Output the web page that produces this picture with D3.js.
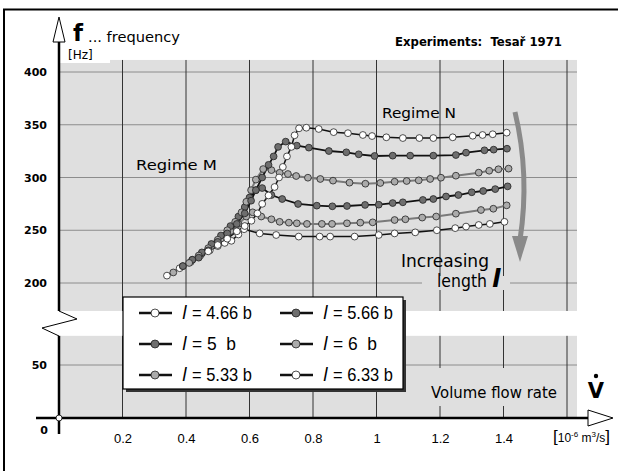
<!DOCTYPE html>
<html>
<head>
<meta charset="utf-8">
<script src="https://cdn.jsdelivr.net/npm/d3@7"></script>
<style>
body { margin: 0; background: #fff; }
text { font-family: "DejaVu Sans", sans-serif; }
.narrow { font-family: "Liberation Sans Narrow", "Arial Narrow", "Liberation Sans", sans-serif; }
</style>
</head>
<body>
<svg id="chart"></svg>
<script>
// values: [flow rate 10^-6 m3/s, frequency Hz]
const s466 = [[0.47,230],[0.50,236],[0.53,242],[0.56,249],[0.585,254],[0.606,259],[0.625,266],[0.64,275],[0.66,283],[0.679,291],[0.693,300],[0.705,310],[0.718,320],[0.732,329],[0.742,340],[0.756,346.6],[0.779,347.2],[0.818,346],[0.865,343],[0.91,342],[0.957,340.3],[0.986,339.3],[1.031,338.1],[1.083,337.4],[1.135,337.4],[1.179,337.4],[1.24,338.1],[1.303,339.6],[1.334,340.3],[1.366,341],[1.41,342.5]];
const s500 = [[0.44,224],[0.47,231],[0.50,239],[0.53,247],[0.56,256],[0.585,266],[0.605,278],[0.62,288],[0.64,300],[0.66,312],[0.676,320],[0.69,329],[0.714,334],[0.749,330.2],[0.787,328.3],[0.85,325.1],[0.905,323.9],[0.944,322],[0.994,320.4],[1.051,320.7],[1.106,320.7],[1.179,320.7],[1.25,321.3],[1.282,323.5],[1.34,325.8],[1.369,326.4],[1.411,327.3]];
const s533 = [[0.41,219],[0.44,226],[0.47,233],[0.50,241],[0.53,250],[0.555,258],[0.575,267],[0.59,277],[0.605,288],[0.62,298],[0.643,308],[0.669,307],[0.695,304.5],[0.721,303.3],[0.747,301.4],[0.784,299.8],[0.823,298.6],[0.863,297],[0.915,295.1],[0.965,294.1],[1.012,294.8],[1.057,296],[1.095,296.7],[1.133,297.3],[1.169,298.6],[1.203,299.8],[1.25,301.7],[1.322,304.6],[1.355,306.4],[1.384,307.8],[1.416,308.4]];
const s566 = [[0.39,216],[0.42,222],[0.45,229],[0.48,237],[0.51,245],[0.54,254],[0.565,263],[0.585,272],[0.60,281],[0.62,288],[0.64,290],[0.669,283.4],[0.703,279.6],[0.753,274.9],[0.812,273.3],[0.861,272.7],[0.907,273],[0.964,274],[1.007,274.2],[1.051,275.8],[1.083,276.5],[1.146,278.7],[1.179,279.6],[1.219,282],[1.258,283.4],[1.30,286],[1.336,287.2],[1.374,289],[1.413,291.6]];
const s600 = [[0.36,210],[0.39,216],[0.42,222],[0.45,228],[0.48,235],[0.51,242],[0.54,249],[0.565,256],[0.59,263],[0.61,267],[0.637,263],[0.669,260.4],[0.695,258],[0.724,257.2],[0.749,256.6],[0.781,256],[0.828,256],[0.86,256],[0.907,256.6],[0.949,257.2],[0.988,257.5],[1.057,259.7],[1.091,260.4],[1.144,262],[1.188,263],[1.25,265.7],[1.329,269.2],[1.368,270.4],[1.41,273.6]];
const s633 = [[0.34,207],[0.38,214],[0.415,220],[0.445,226],[0.475,231],[0.50,235],[0.522,238],[0.543,240],[0.565,246],[0.583,251],[0.632,247],[0.684,245.5],[0.755,244],[0.821,244],[0.854,244],[0.931,244],[1.007,245.5],[1.057,247],[1.122,248],[1.19,250],[1.248,252],[1.282,253.5],[1.322,255],[1.357,256],[1.403,258]];

const legendLabels = ["4.66 b", "5  b", "5.33 b", "5.66 b", "6  b", "6.33 b"];
const xTicks = [0.2, 0.4, 0.6, 0.8, 1, 1.2, 1.4];
const xGrid = [0.2, 0.4, 0.6, 0.8, 1, 1.2, 1.4, 1.6];
const yTicksUpper = [200, 250, 300, 350, 400];
const yTicksLower = [50];

let svg = d3.select("#chart").attr("width", 618).attr("height", 471);

let x = d3.scaleLinear().domain([0, 1.6]).range([59, 567]);
let yUp = d3.scaleLinear().domain([200, 400]).range([283, 72]);
let yLow = d3.scaleLinear().domain([0, 50]).range([418, 365]);

// frame
svg.append('rect').attr('x', 4).attr('y', 9.5).attr('width', 700).attr('height', 600)
    .attr('fill', 'none').attr('stroke', '#000').attr('stroke-width', 2);

// gray plot areas (upper and lower part of the broken axis)
svg.append('rect').attr('x', 59).attr('y', yUp(411.4)).attr('width', 518).attr('height', yUp(173.5) - yUp(411.4))
    .attr('fill', '#dfdfdf');
svg.append('rect').attr('x', 59).attr('y', yLow(77.5)).attr('width', 518).attr('height', yLow(0) - yLow(77.5))
    .attr('fill', '#dfdfdf');

// grid
let grid = svg.append('g');
grid.selectAll('line.hu').data(yTicksUpper).enter().append('line')
    .attr('x1', 59).attr('x2', 577).attr('y1', d => yUp(d)).attr('y2', d => yUp(d))
    .attr('stroke', '#8c8c8c').attr('stroke-width', 1);
grid.selectAll('line.hl').data(yTicksLower).enter().append('line')
    .attr('x1', 59).attr('x2', 577).attr('y1', d => yLow(d)).attr('y2', d => yLow(d))
    .attr('stroke', '#8c8c8c').attr('stroke-width', 1);
grid.selectAll('line.vu').data(xGrid).enter().append('line')
    .attr('x1', d => x(d)).attr('x2', d => x(d)).attr('y1', yUp(411.4)).attr('y2', yUp(173.5))
    .attr('stroke', '#333').attr('stroke-width', 1);
grid.selectAll('line.vl').data(xGrid).enter().append('line')
    .attr('x1', d => x(d)).attr('x2', d => x(d)).attr('y1', yLow(77.5)).attr('y2', yLow(0))
    .attr('stroke', '#333').attr('stroke-width', 1);

// [Hz] sits in a white notch
svg.append('rect').attr('x', 60).attr('y', 58).attr('width', 50).attr('height', 5).attr('fill', '#fff');
svg.append('text').attr('x', 68).attr('y', 58.5).attr('font-size', 12).text('[Hz]');

// texts on gray background
function label(sx, sy, sText, iSize, iLen){
    return svg.append('text').attr('x', sx).attr('y', sy).attr('font-size', iSize)
        .attr('textLength', iLen).attr('lengthAdjust', 'spacingAndGlyphs').text(sText);
}
svg.append('rect').attr('x', 422).attr('y', 276).attr('width', 88).attr('height', 14).attr('fill', '#dfdfdf');
label(136, 170, 'Regime M', 14, 81);
label(382, 118, 'Regime N', 14, 74);
label(401, 267, 'Increasing', 17, 88);
label(437, 287, 'length', 17, 50);
svg.append('text').attr('x', 492).attr('y', 287).attr('font-size', 25)
    .attr('font-family', 'Liberation Serif').attr('font-style', 'italic').attr('font-weight', 'bold').text('l');
svg.append('rect').attr('x', 426).attr('y', 368).attr('width', 140).attr('height', 38).attr('fill', '#dfdfdf');
label(431, 398, 'Volume flow rate', 15, 126);

// gray arrow "increasing length"
svg.append('path').attr('d', 'M515,112 Q530,175 520,240')
    .attr('fill', 'none').attr('stroke', '#8a8a8a').attr('stroke-width', 5);
svg.append('path').attr('d', 'M512,236 L528,236 L520,262 Z').attr('fill', '#8a8a8a');

// series
let line = d3.line().x(d => x(d[0])).y(d => yUp(d[1]));
let series = [
    {data: s633, fill: '#fff', line: '#111', w: 1.5},
    {data: s600, fill: '#ababab', line: '#7a7a7a', w: 2},
    {data: s566, fill: '#6e6e6e', line: '#111', w: 1.8},
    {data: s533, fill: '#ababab', line: '#7a7a7a', w: 2},
    {data: s500, fill: '#6e6e6e', line: '#111', w: 1.8},
    {data: s466, fill: '#fff', line: '#111', w: 1.5}
];
series.forEach(function(s){
    svg.append('path').attr('d', line(s.data)).attr('fill', 'none')
        .attr('stroke', s.line).attr('stroke-width', s.w);
});
series.forEach(function(s){
    svg.append('g').selectAll('circle').data(s.data).enter().append('circle')
        .attr('cx', d => x(d[0])).attr('cy', d => yUp(d[1])).attr('r', 3.4)
        .attr('fill', s.fill).attr('stroke', '#222').attr('stroke-width', 0.8);
});

// legend
let legend = svg.append('g');
legend.append('rect').attr('x', 126).attr('y', 300).attr('width', 280).attr('height', 92).attr('fill', '#333');
legend.append('rect').attr('x', 123).attr('y', 297).attr('width', 280).attr('height', 92)
    .attr('fill', '#fff').attr('stroke', '#000').attr('stroke-width', 1.2);
let legendFills = ['#fff', '#6e6e6e', '#ababab', '#6e6e6e', '#ababab', '#fff'];
let rowY = [313, 344, 375];
legendLabels.forEach(function(sLab, i){
    let lx = i < 3 ? 139 : 280;
    let ly = rowY[i % 3];
    legend.append('line').attr('x1', lx).attr('x2', lx + 33).attr('y1', ly).attr('y2', ly)
        .attr('stroke', '#111').attr('stroke-width', 2.5);
    legend.append('circle').attr('cx', lx + 16).attr('cy', ly).attr('r', 4)
        .attr('fill', legendFills[i]).attr('stroke', '#222').attr('stroke-width', 0.8);
    legend.append('text').attr('x', lx + 43).attr('y', ly + 6).attr('font-size', 18)
        .attr('font-family', 'Liberation Serif').attr('font-style', 'italic').text('l');
    legend.append('text').attr('class', 'narrow').attr('x', lx + 53).attr('y', ly + 6)
        .attr('font-size', 18).style('white-space', 'pre')
        .attr('textLength', sLab.length > 4 ? 60 : 44).attr('lengthAdjust', 'spacingAndGlyphs')
        .text('= ' + sLab);
});

// axes
svg.append('g').attr('transform', 'translate(0,431)')
    .call(d3.axisBottom(x).tickValues(xTicks).tickSize(0).tickFormat(d => d))
    .call(g => g.select('.domain').remove())
    .selectAll('text').attr('class', 'narrow').attr('font-size', 13).attr('fill', '#000');
svg.append('g').attr('transform', 'translate(59,0)')
    .call(d3.axisLeft(yUp).tickValues(yTicksUpper).tickSize(0).tickPadding(12))
    .call(g => g.select('.domain').remove())
    .selectAll('text').attr('font-size', 11).attr('font-weight', 'bold').attr('fill', '#000');
svg.append('g').attr('transform', 'translate(59,0)')
    .call(d3.axisLeft(yLow).tickValues(yTicksLower).tickSize(0).tickPadding(12))
    .call(g => g.select('.domain').remove())
    .selectAll('text').attr('font-size', 11).attr('font-weight', 'bold').attr('fill', '#000');
svg.append('text').attr('x', 44).attr('y', 434).attr('text-anchor', 'middle')
    .attr('font-size', 11).attr('font-weight', 'bold').text('0');

// y axis with break
svg.append('line').attr('x1', 59).attr('x2', 59).attr('y1', 40).attr('y2', yUp(173.5))
    .attr('stroke', '#000').attr('stroke-width', 2.5);
svg.append('line').attr('x1', 59).attr('x2', 59).attr('y1', yLow(77.5)).attr('y2', 434)
    .attr('stroke', '#000').attr('stroke-width', 2.5);
svg.append('path').attr('d', 'M59,311 L77,319 L42,328 L59,336')
    .attr('fill', 'none').attr('stroke', '#000').attr('stroke-width', 1);
svg.append('path').attr('d', 'M59,17 L53,42 L65,42 Z')
    .attr('fill', '#fff').attr('stroke', '#000').attr('stroke-width', 1);

// x axis
svg.append('line').attr('x1', 36).attr('x2', 588).attr('y1', 418).attr('y2', 418)
    .attr('stroke', '#000').attr('stroke-width', 2.5);
svg.append('path').attr('d', 'M588,410 L613,418 L588,426 Z')
    .attr('fill', '#fff').attr('stroke', '#000').attr('stroke-width', 1);
svg.append('circle').attr('cx', 59).attr('cy', 418).attr('r', 3)
    .attr('fill', '#fff').attr('stroke', '#000').attr('stroke-width', 0.8);

// axis titles
svg.append('text').attr('x', 73).attr('y', 41).attr('font-size', 23).attr('font-weight', 'bold')
    .attr('font-family', 'Liberation Sans').text('f');
label(88, 42, '... frequency', 14, 92);
label(395, 46, 'Experiments:  Tesař 1971', 13, 167).attr('font-weight', 'bold').style('white-space', 'pre');
svg.append('text').attr('x', 596).attr('y', 398).attr('text-anchor', 'middle').attr('font-size', 21)
    .attr('font-weight', 'bold').attr('font-family', 'Liberation Sans').text('V');
svg.append('circle').attr('cx', 596).attr('cy', 376).attr('r', 2.2).attr('fill', '#000');

// unit
let unit = svg.append('text').attr('class', 'narrow').attr('x', 553).attr('y', 442).attr('font-size', 12);
unit.append('tspan').attr('font-size', 17).text('[');
unit.append('tspan').text('10');
unit.append('tspan').attr('font-size', 8).attr('dy', -5).text('-6');
unit.append('tspan').attr('dy', 5).text(' m');
unit.append('tspan').attr('font-size', 8).attr('dy', -5).text('3');
unit.append('tspan').attr('dy', 5).text('/s');
unit.append('tspan').attr('font-size', 17).text(']');
</script>
</body>
</html>
